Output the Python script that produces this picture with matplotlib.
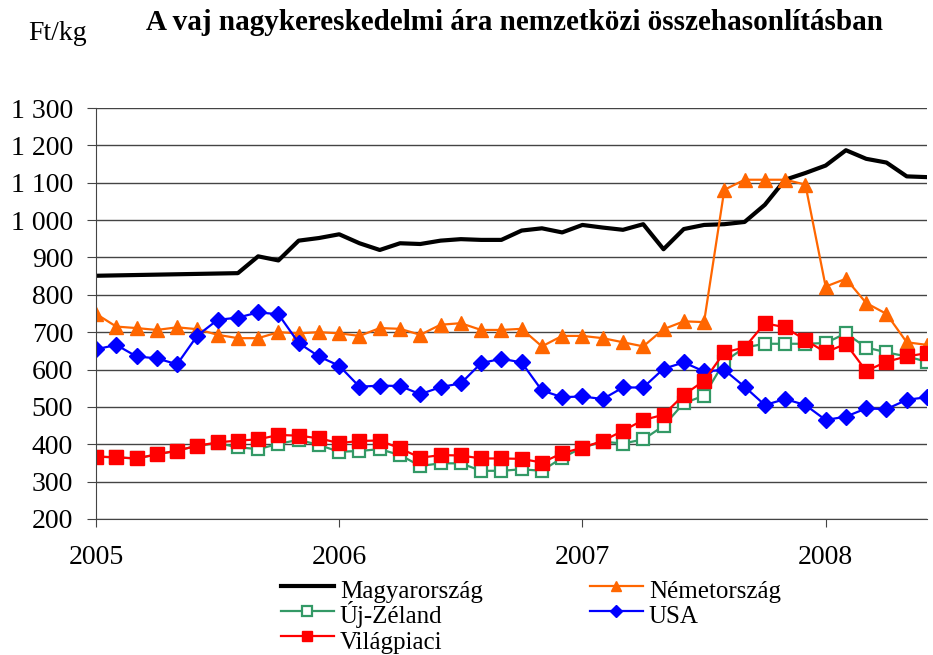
import numpy as np
import matplotlib
matplotlib.use("Agg")
import matplotlib.pyplot as plt
from matplotlib.ticker import FuncFormatter

plt.rcParams['font.family'] = ['Liberation Serif', 'DejaVu Serif']

# monthly data, 2005 Jan - 2008 Jun (Ft/kg)
years = ['2005', '2006', '2007', '2008']
months = np.arange(42)

magyar = [851, 852, 853, 854, 855, 856, 857, 858, 903, 892, 945, 952,
          962, 938, 920, 938, 936, 945, 949, 947, 947, 972, 978, 967,
          987, 980, 974, 989, 922, 976, 987, 989, 995, 1041, 1108, 1126,
          1146, 1187, 1164, 1154, 1117, 1115]
nemet = [749, 715, 711, 706, 713, 708, 693, 684, 684, 700, 697, 700,
         697, 690, 711, 709, 693, 720, 724, 706, 706, 709, 662, 690,
         690, 684, 673, 662, 708, 729, 727, 1081, 1108, 1108, 1108, 1095,
         822, 843, 778, 749, 673, 666]
ujzeland = [367, 365, 362, 373, 383, 396, 403, 392, 387, 401, 412, 398,
            380, 382, 387, 371, 342, 349, 349, 329, 329, 333, 329, 364,
            391, 407, 402, 413, 449, 510, 530, 621, 659, 669, 669, 669,
            671, 697, 659, 646, 635, 621]
usa = [654, 666, 635, 630, 614, 691, 733, 739, 753, 748, 671, 635,
       610, 554, 557, 556, 534, 553, 563, 617, 629, 619, 544, 526,
       528, 521, 552, 552, 602, 619, 595, 599, 554, 505, 521, 505,
       465, 474, 496, 494, 519, 526]
vilag = [367, 365, 362, 373, 383, 396, 405, 410, 413, 425, 423, 416,
         403, 409, 410, 389, 364, 371, 370, 362, 362, 361, 351, 376,
         391, 409, 436, 465, 479, 532, 570, 646, 659, 724, 713, 679,
         646, 669, 596, 621, 635, 644]

fig = plt.figure(figsize=(9.33, 6.55), dpi=100)
ax = fig.add_axes([96 / 933, 1 - 519 / 655, 831 / 933, 411 / 655])

l_hu, = ax.plot(months, magyar, color='black', lw=3, label='Magyarország')
l_de, = ax.plot(months, nemet, color='#FF6600', lw=1.6, marker='^', ms=10,
                label='Németország')
l_nz, = ax.plot(months, ujzeland, color='#339966', lw=1.6, marker='s', ms=9,
                mfc='white', mew=1.6, label='Új-Zéland')
l_us, = ax.plot(months, usa, color='#0000FF', lw=1.6, marker='D', ms=8,
                label='USA')
l_wo, = ax.plot(months, vilag, color='#FF0000', lw=1.6, marker='s', ms=10,
                label='Világpiaci')

ax.set_xlim(0, 41)
ax.set_ylim(200, 1300)
ax.set_yticks(np.arange(200, 1301, 100))
ax.yaxis.set_major_formatter(FuncFormatter(lambda v, p: f'{int(v):,}'.replace(',', ' ')))
ax.set_xticks([0, 12, 24, 36])
ax.set_xticklabels(years)
ax.grid(axis='y', color='#444444', lw=1)
ax.set_axisbelow(True)
for s in ['top', 'right']:
    ax.spines[s].set_visible(False)
ax.spines['left'].set_color('#444444')
ax.spines['bottom'].set_color('#444444')
ax.tick_params(axis='y', length=6.5, pad=10, labelsize=20, color='#444444')
ax.tick_params(axis='x', length=6, pad=13, labelsize=20, color='#444444')

fig.text(28 / 933, 1 - 33 / 655, 'Ft/kg', fontsize=20, va='center', ha='left')
fig.text(514 / 933, 1 - 22 / 655, 'A vaj nagykereskedelmi ára nemzetközi összehasonlításban',
         fontsize=21, fontweight='bold', va='center', ha='center')

# legend order gives the same row layout as the original (two columns);
# tall handle boxes keep the rows of both columns level
handles = [l_hu, l_nz, l_wo, l_de, l_us]
leg = fig.legend(handles, [h.get_label() for h in handles], ncol=2, frameon=False,
                 loc='upper left', bbox_to_anchor=(281 / 933, 1 - 574 / 655),
                 fontsize=18, handlelength=2.1, handletextpad=0.25, columnspacing=4.3,
                 handleheight=1.6, labelspacing=-0.28, borderpad=0, borderaxespad=0,
                 markerscale=0.75)

fig.savefig('out.png', dpi=100)
